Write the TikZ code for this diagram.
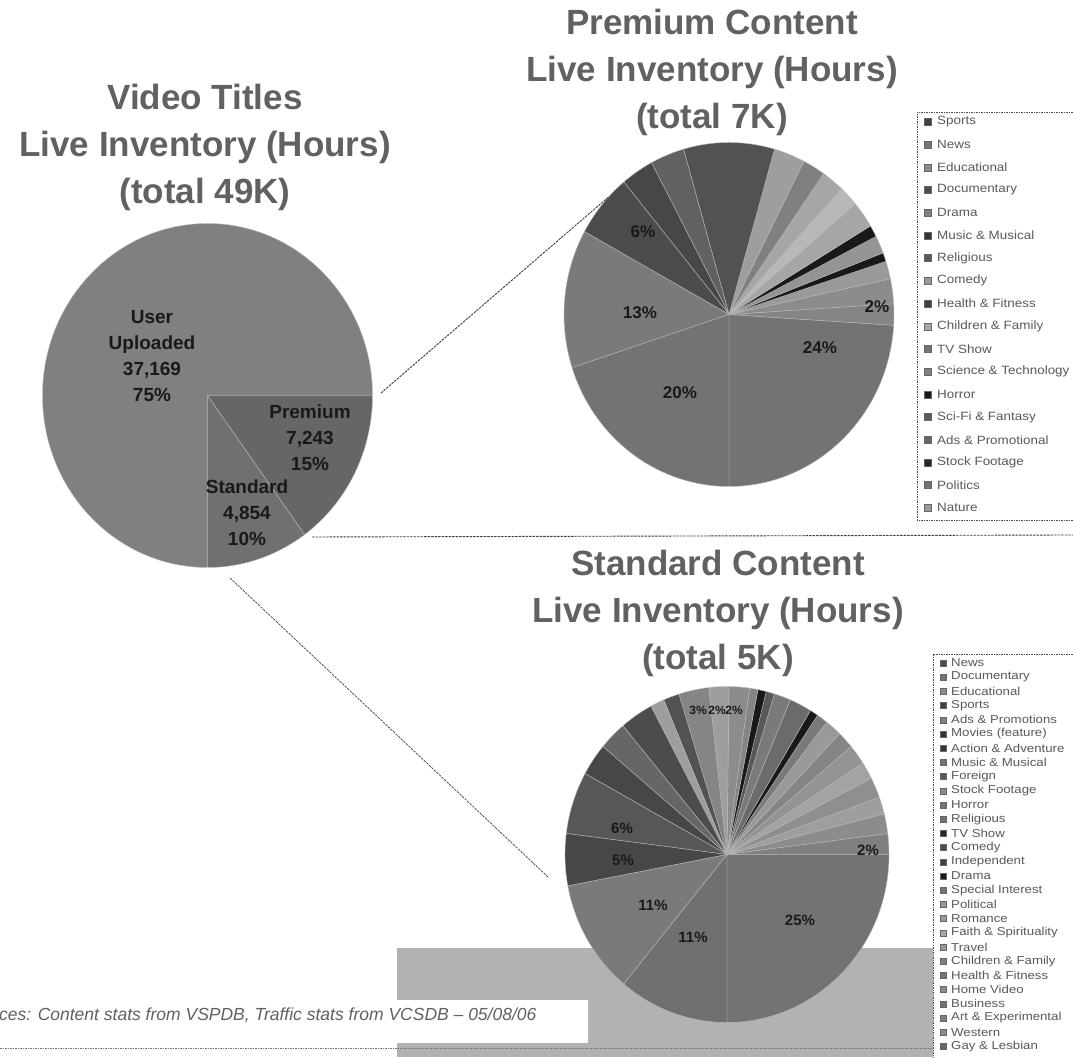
\documentclass[tikz,border=0pt]{standalone}
\usepackage{fontspec}
\usetikzlibrary{calc}
\setmainfont{Liberation Sans}
\newfontfamily\premlegfont[FakeStretch=1.12]{Liberation Sans}
\newfontfamily\stdlegfont[FakeStretch=1.15]{Liberation Sans}
\begin{document}
\begin{tikzpicture}[x=1pt,y=1pt,
  ttl/.style={font=\fontsize{35}{47}\selectfont\bfseries, text=black!62, align=center, inner sep=0pt},
  biglbl/.style={font=\fontsize{19}{26}\selectfont\bfseries, text=black!90, align=center, inner sep=0pt},
  pctlbl/.style={font=\fontsize{17}{20}\selectfont\bfseries, text=black!90, inner sep=0pt},
  midlbl/.style={font=\fontsize{15}{18}\selectfont\bfseries, text=black!90, inner sep=0pt},
  smlbl/.style={font=\fontsize{12}{14}\selectfont\bfseries, text=black!90, inner sep=0pt},
  conn/.style={draw=black!75, line width=0.9pt, dash pattern=on 2.5pt off 1pt},
  slice/.style={draw=black!28, line width=0.4pt},
  premleg/.style={font=\premlegfont\fontsize{12}{14}\selectfont, text=black!65, anchor=west, inner sep=0pt},
  stdleg/.style={font=\stdlegfont\fontsize{11.5}{13}\selectfont, text=black!65, anchor=west, inner sep=0pt},
  legsq/.style={minimum size=7pt, inner sep=0pt, draw=black!60, line width=0.4pt},
  legbox/.style={draw=black!70, line width=0.8pt, dash pattern=on 1.5pt off 1pt}
]
\useasboundingbox (0,0) rectangle (1073,1057);
\fill[white] (0,0) rectangle (1073,1057);

% ---------- stippled band and footer ----------
\fill[black!30] (397,0) rectangle (933,109);
\fill[white] (0,14) rectangle (588,57);
\node[font=\fontsize{17.5}{20}\selectfont\itshape, text=black!62, anchor=west, inner sep=0pt] (footer) at (-1,42)
  {ces: Content stats from VSPDB, Traffic stats from VCSDB -- 05/08/06};
\coordinate (bl0) at (0,9);
\coordinate (bl1) at (933,9);
\draw[legbox, draw=black!55] (bl0) -- (bl1);

% ---------- titles ----------
\node[ttl] (t1) at (205,910) {Video Titles\\Live Inventory (Hours)\\(total 49K)};
\node[ttl] (t2) at (712,985) {Premium Content\\Live Inventory (Hours)\\(total 7K)};
\node[ttl] (t3) at (718,444) {Standard Content\\Live Inventory (Hours)\\(total 5K)};

% ---------- pie 1 ----------
\coordinate (vc) at (207.5,661.5);
\foreach \a/\b/\c in {0/270/black!50, -54/0/black!60, -90/-54/black!56}
  {\path[slice, fill=\c] (vc) -- ++(\a:165 and 172) arc[start angle=\a, end angle=\b, x radius=165, y radius=172] -- cycle;}
\node[biglbl] (uu) at (152,701) {User\\Uploaded\\37,169\\75\%};
\node[biglbl] (pr) at (310,619) {Premium\\7,243\\15\%};
\node[biglbl] (sd) at (247,544) {Standard\\4,854\\10\%};

% ---------- premium pie ----------
\coordinate (pc) at (729,742.5);
\foreach \a/\b/\c in {-90/-3.6/black!55, -3.6/3.6/black!48, 3.6/12/black!45, 12/18/black!40,
  18/21/black!90, 21/27/black!42, 27/31/black!90, 31/40/black!35, 40/47/black!28, 47/55/black!35,
  55/63/black!50, 63/74/black!38, 74/106/black!68, 106/118/black!62, 118/129.6/black!72,
  129.6/151.2/black!70, 151.2/198/black!52, 198/270/black!55}
  {\path[slice, fill=\c] (pc) -- ++(\a:165 and 172) arc[start angle=\a, end angle=\b, x radius=165, y radius=172] -- cycle;}
\node[pctlbl] (p13) at (640,744) {13\%};
\node[pctlbl] (p20) at (680,664) {20\%};
\node[pctlbl] (p24) at (820,709) {24\%};
\node[pctlbl] (p2) at (877,750) {2\%};
\node[pctlbl] (p6) at (643,825) {6\%};

% ---------- standard pie ----------
\coordinate (sc) at (727,202.5);
\foreach \a/\b/\c in {-90/0/black!55, 0/7.2/black!50, 7.2/14/black!45, 14/20/black!38, 20/27/black!44,
  27/33/black!36, 33/40/black!42, 40/46/black!48, 46/52/black!40, 52/56/black!52, 56/59/black!90,
  59/67/black!58, 67/73/black!52, 73/76/black!65, 76/79/black!90, 79/82/black!48, 82/89.3/black!45,
  89.3/96.5/black!38, 96.5/107.3/black!48, 107.3/113/black!68, 113/118/black!38, 118/130/black!70,
  130/140/black!60, 140/151.2/black!72, 151.2/172.8/black!66, 172.8/190.8/black!72,
  190.8/230.4/black!52, 230.4/270/black!56}
  {\path[slice, fill=\c] (sc) -- ++(\a:162 and 168) arc[start angle=\a, end angle=\b, x radius=162, y radius=168] -- cycle;}
\node[smlbl] (s3a) at (698,347) {3\%};
\node[smlbl] (s2a) at (717,347) {2\%};
\node[smlbl] (s2b) at (734,347) {2\%};
\node[midlbl] (s6) at (622,229) {6\%};
\node[midlbl] (s5) at (623,197) {5\%};
\node[midlbl] (s11a) at (653,152) {11\%};
\node[midlbl] (s11b) at (693,120) {11\%};
\node[midlbl] (s2c) at (868,207) {2\%};
\node[midlbl] (s25) at (800,137) {25\%};

% ---------- legends ----------
\coordinate (plb0) at (917,945);
\coordinate (plb1) at (917,537);
\draw[legbox] (1080,945) -- (plb0) -- (plb1) -- (1080,537);
\foreach \t/\c [count=\i from 0] in {Sports/black!75, News/black!55, Educational/black!45,
  Documentary/black!70, Drama/black!50, Music \& Musical/black!80, Religious/black!65,
  Comedy/black!40, Health \& Fitness/black!75, Children \& Family/black!35, TV Show/black!55,
  Science \& Technology/black!50, Horror/black!90, Sci-Fi \& Fantasy/black!65,
  Ads \& Promotional/black!60, Stock Footage/black!85, Politics/black!55, Nature/black!40}
  {\node[legsq, fill=\c] (pm\i) at (928,{935-\i*22.7}) {};
   \node[premleg] (pl\i) at (937,{935-\i*22.7}) {\t};}

\coordinate (slb0) at (933,403);
\coordinate (slb1) at (933,-5);
\draw[legbox] (1080,403) -- (slb0) -- (slb1);
\foreach \t/\c [count=\i from 0] in {News/black!70, Documentary/black!55, Educational/black!45,
  Sports/black!75, Ads \& Promotions/black!50, Movies (feature)/black!80,
  Action \& Adventure/black!80, Music \& Musical/black!55, Foreign/black!65,
  Stock Footage/black!45, Horror/black!55, Religious/black!55, TV Show/black!85,
  Comedy/black!70, Independent/black!75, Drama/black!90, Special Interest/black!55,
  Political/black!40, Romance/black!40, Faith \& Spirituality/black!35, Travel/black!40,
  Children \& Family/black!50, Health \& Fitness/black!55, Home Video/black!45,
  Business/black!55, Art \& Experimental/black!50, Western/black!45, Gay \& Lesbian/black!60}
  {\node[legsq, minimum size=6pt, fill=\c] (sm\i) at (943,{394-\i*14.2}) {};
   \node[stdleg] (sl\i) at (951,{394-\i*14.2}) {\t};}

% ---------- connectors ----------
\coordinate (c1s) at (381,664);
\coordinate (c1e) at ($(pc)+(137:165 and 172)$);
\coordinate (c2s) at (312,520);
\coordinate (c2e) at (1073,522);
\coordinate (c3s) at (230,479);
\coordinate (c3e) at (548,180);
\draw[conn] (c1s) -- (c1e);
\draw[conn] (c2s) -- (c2e);
\draw[conn, line width=0.7pt] (c3s) -- (c3e);
\end{tikzpicture}
\end{document}
